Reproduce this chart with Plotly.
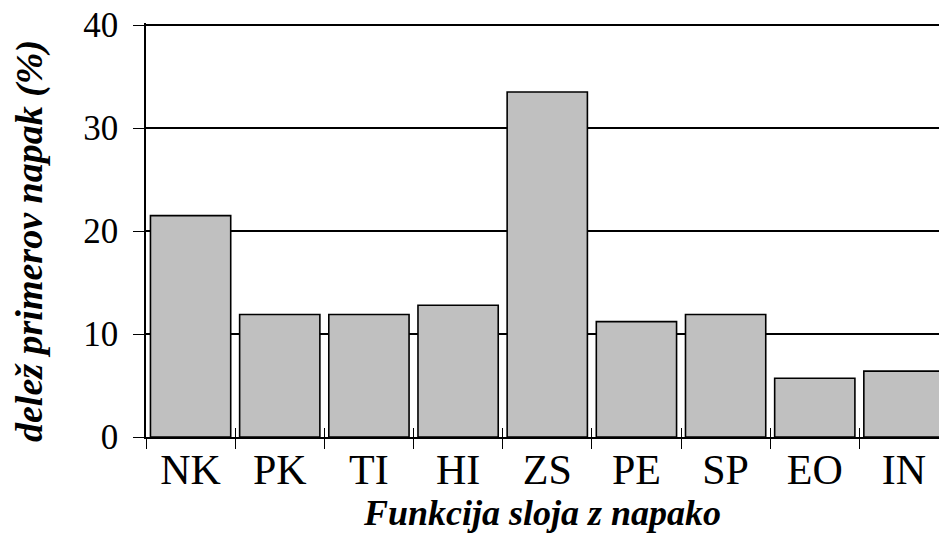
import plotly.graph_objects as go

categories = ["NK", "PK", "TI", "HI", "ZS", "PE", "SP", "EO", "IN"]
values = [21.5, 11.9, 11.9, 12.8, 33.5, 11.2, 11.9, 5.7, 6.4]
y_ticks = [0, 10, 20, 30, 40]
x_title = "Funkcija sloja z napako"
y_title = "delež primerov napak (%)"

FONT = "Liberation Serif"
n = len(categories)
x_range = [-0.5, n - 0.5 - 0.107]

fig = go.Figure()
fig.add_trace(go.Bar(
    x=categories, y=values,
    marker=dict(color="#C0C0C0", line=dict(color="black", width=1.6)),
    width=0.9,
))
# helper axis for the inside half of the crossing category ticks
fig.add_trace(go.Scatter(x=[0], y=[None], xaxis="x2", showlegend=False, hoverinfo="skip"))

fig.update_layout(
    width=939, height=539,
    margin=dict(l=146, r=0, t=23, b=102, autoexpand=False),
    paper_bgcolor="white", plot_bgcolor="white",
    showlegend=False,
    font=dict(family=FONT, color="black"),
    xaxis=dict(
        type="category", range=x_range, automargin=False,
        showline=True, linecolor="black", linewidth=1.6,
        ticks="outside", tickson="boundaries", ticklen=10, tickwidth=1.3, tickcolor="black",
        ticklabelstandoff=-5,
        tickfont=dict(family=FONT, size=42, color="black"),
        showgrid=False,
        title=dict(text=x_title, standoff=2,
                   font=dict(family=FONT, size=36, color="black", weight="bold", style="italic")),
    ),
    xaxis2=dict(
        overlaying="x", anchor="y", side="bottom", range=x_range, automargin=False,
        tickvals=[i - 0.5 for i in range(n)], ticks="inside", ticklen=9, tickwidth=1.3,
        tickcolor="black", showticklabels=False, showgrid=False, showline=False, zeroline=False,
    ),
    yaxis=dict(
        range=[0, 40.2], tickvals=y_ticks, automargin=False,
        showline=True, linecolor="black", linewidth=1.6,
        ticks="outside", ticklen=11, tickwidth=1.3, tickcolor="black",
        ticklabelstandoff=8, ticklabeloverflow="allow",
        tickfont=dict(family=FONT, size=35, color="black"),
        showgrid=True, gridcolor="black", gridwidth=1.6, zeroline=False,
    ),
    annotations=[dict(
        text=y_title, textangle=-90,
        xref="paper", yref="paper", x=0, y=0.5,
        xanchor="center", yanchor="middle", xshift=-117, yshift=-11,
        showarrow=False,
        font=dict(family=FONT, size=38, color="black", weight="bold", style="italic"),
    )],
)

# remove the default 8px page margin so the figure fills the window exactly
fig.write_html("out.html", config={"displayModeBar": False},
               post_script="document.body.style.margin='0';")
